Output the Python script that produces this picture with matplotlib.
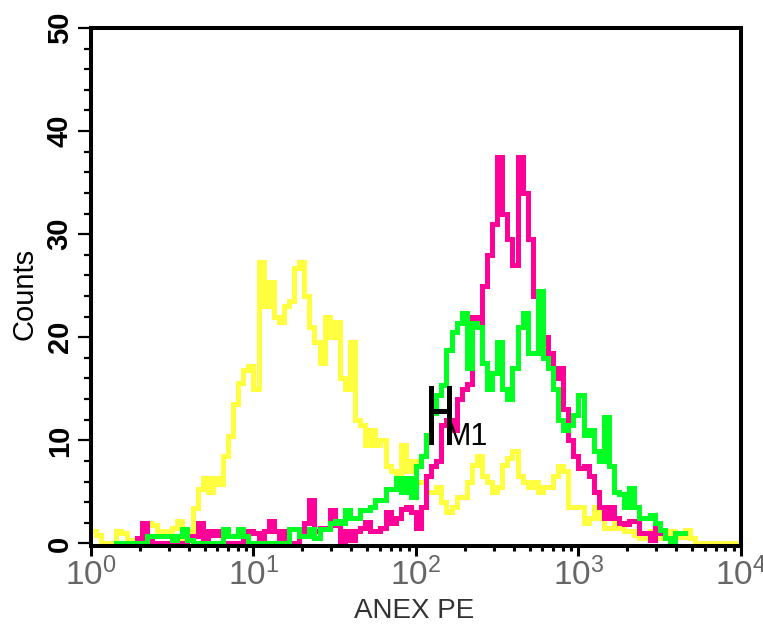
import numpy as np
import matplotlib
matplotlib.use('Agg')
import matplotlib.pyplot as plt
from matplotlib.ticker import MultipleLocator, LogLocator, NullFormatter

nan = np.nan

# 128 log channels from 10^0 to 10^4, counts
yellow = [1.2, 0.8, 0, 0, 0, 1.2, 1.0, 0.3, 0, 0,
          0.5, 2.0, 1.8, 1.2, 1.2, 1.2, 1.5, 2.2, 0.2, 1.2,
          3.4, 5.3, 6.3, 5.0, 6.3, 5.8, 8.5, 10.4, 13.5, 15.6,
          16.8, 17.2, 15.0, 27.3, 23.0, 25.4, 22.0, 21.5, 23.0, 23.5,
          26.7, 27.3, 24.0, 21.0, 19.5, 17.5, 22.0, 20.0, 21.5, 16.0,
          15.0, 19.5, 12.0, 11.5, 9.5, 11.0, 9.5, 10.0, 7.5, 7.0,
          6.5, 9.5, 7.0, 8.0, 6.0, 6.0, 5.0, 5.0, 5.5, 4.0,
          3.0, 3.5, 4.5, 4.5, 6.0, 7.6, 8.5, 6.5, 6.0, 5.0,
          5.5, 7.6, 8.3, 9.0, 6.5, 6.0, 5.5, 6.0, 5.0, 5.5,
          5.5, 6.5, 7.5, 7.0, 3.5, 3.5, 3.5, 2.0, 2.5, 3.5,
          2.5, 1.5, 1.5, 2.3, 1.5, 1.2, 1.2, 0.8, 0.5, 0.6,
          1.2, 0.5, 0.5, 1.0, 1.2, 0.6, 0.6, 1.3, 0.5, 0,
          0, 0, 0, 0, 0, 0, 0, 0]

green = [nan, nan, nan, nan, nan, 0, 0, 0, 0, 0,
         0, 0.7, 0.7, 0.7, 0.7, 0.7, 0.3, 0.7, 1.4, 0.3,
         0, 0, 0, 0, 0, 0, 1.4, 0.7, 0.7, 1.4,
         0.7, 0, 0, 0, 0, 0, 0, 0, 0, 1.4,
         1.4, 0.7, 0.7, 1.4, 0.5, 1.4, 1.4, 2.0, 2.2, 2.0,
         3.2, 2.5, 2.5, 3.2, 3.2, 3.5, 4.2, 4.2, 5.3, 5.3,
         6.3, 5.0, 6.3, 4.5, 7.5, 8.5, 10.5, 12.7, 14.4, 15.4,
         18.8, 20.5, 21.4, 22.4, 17.0, 21.4, 21.0, 17.5, 15.0, 16.5,
         19.5, 15.0, 14.0, 17.0, 21.0, 22.4, 18.5, 18.5, 24.5, 18.0,
         17.0, 15.0, 12.0, 11.0, 11.5, 12.5, 14.4, 10.5, 11.0, 9.0,
         8.0, 12.3, 7.5, 5.0, 4.8, 3.5, 5.4, 3.5, 2.5, 2.5,
         2.8, 2.0, 1.3, 0.5, 0, 1.0, 1.0, nan, nan, nan,
         nan, nan, nan, nan, nan, nan, nan, nan]

pink = [nan, nan, nan, nan, nan, nan, nan, nan, nan, 0.5,
        2.0, 0.3, 0, 0, 0, 0, 0, 0, 0, 0.7,
        0.7, 2.0, 0.5, 1.2, 0.8, 1.2, 0, 0, 0, 0,
        0.5, 1.2, 1.0, 0.5, 1.2, 2.2, 1.2, 0.5, 1.2, 0,
        0, 1.2, 2.0, 4.2, 1.2, 1.5, 1.5, 3.2, 1.8, 0,
        1.2, 0.3, 1.2, 1.5, 2.1, 1.2, 1.2, 1.5, 3.0, 2.0,
        2.5, 3.3, 3.5, 3.0, 1.5, 3.5, 6.5, 7.5, 8.0, 11.5,
        12.0, 11.0, 14.0, 15.0, 15.5, 22.0, 21.5, 25.0, 28.0, 31.0,
        37.5, 32.0, 29.5, 27.0, 37.5, 34.0, 29.5, 24.0, 22.0, 20.0,
        18.5, 16.0, 17.0, 13.0, 10.0, 8.5, 7.3, 7.5, 6.5, 5.0,
        3.5, 2.5, 3.5, 2.5, 2.0, 1.9, 2.2, 2.2, 1.0, 1.0,
        0.3, 1.5, 1.0, nan, nan, nan, nan, nan, nan, nan,
        nan, nan, nan, nan, nan, nan, nan, nan]

# M1 marker: left, right, bar height, bottom, top
m1_left, m1_right = 124, 159
m1_bar, m1_low, m1_high = 12.8, 9.8, 15.1

narrow = ['Liberation Sans Narrow', 'Liberation Sans', 'DejaVu Sans']
regular = ['Liberation Sans', 'DejaVu Sans']

edges = np.logspace(0, 4, len(yellow) + 1)

fig = plt.figure(figsize=(7.63, 6.24), dpi=100)
ax = fig.add_axes([91 / 763, 78 / 624, 650 / 763, 518 / 624])

def hist(vals, color, z):
    v = np.array(vals, float)
    ax.step(edges, np.append(v, v[-1]), where='post', color=color,
            lw=2.4, zorder=z, antialiased=False, solid_joinstyle='miter')

hist(yellow, '#ffff40', 2)
hist(pink, '#ff0099', 3)
hist(green, '#00ff22', 4)

# marker
ax.plot([m1_left, m1_left], [m1_low, m1_high], color='black', lw=2.2, zorder=6, antialiased=False)
ax.plot([m1_right, m1_right], [m1_low, m1_high], color='black', lw=2.2, zorder=6, antialiased=False)
ax.plot([m1_left, m1_right], [m1_bar, m1_bar], color='black', lw=2.2, zorder=6, antialiased=False)
ax.text(151, 9.55, 'M1', ha='left', va='baseline', fontsize=22, family=narrow, zorder=7)

ax.set_xscale('log')
ax.set_xlim(1, 1e4)
ax.set_ylim(-0.25, 50)

ax.set_xticks([1, 10, 100, 1000, 10000])
ax.set_xticklabels([r'$\mathregular{10^{%d}}$' % k for k in range(5)])
ax.xaxis.set_minor_locator(LogLocator(base=10, subs=np.arange(2, 10)))
ax.xaxis.set_minor_formatter(NullFormatter())
ax.set_yticks(range(0, 51, 10))
ax.yaxis.set_minor_locator(MultipleLocator(2))

for s in ax.spines.values():
    s.set_linewidth(2.9)
    s.set_zorder(10)

ax.tick_params(axis='x', which='major', direction='out', length=7.5, width=2.2,
               pad=1, labelsize=24, labelcolor='#666666')
ax.tick_params(axis='x', which='minor', direction='out', length=3.8, width=2.2)
ax.tick_params(axis='y', which='major', direction='out', length=9.5, width=1.6,
               pad=3, labelsize=21, labelrotation=90)
ax.tick_params(axis='y', which='minor', direction='out', length=5, width=1.6)

for lab in ax.get_xticklabels():
    lab.set_family(narrow)
for lab in ax.get_yticklabels():
    lab.set_family(narrow)
    lab.set_fontweight('bold')
    lab.set_va('center')

ax.set_ylabel('Counts', fontsize=21, family=regular)
ax.yaxis.set_label_coords(-0.080, 0.4865)
ax.set_xlabel('ANEX PE', fontsize=20, family=regular, color='#333333')
ax.xaxis.set_label_coords(0.497, -0.100)

fig.savefig('out.png', dpi=100)
